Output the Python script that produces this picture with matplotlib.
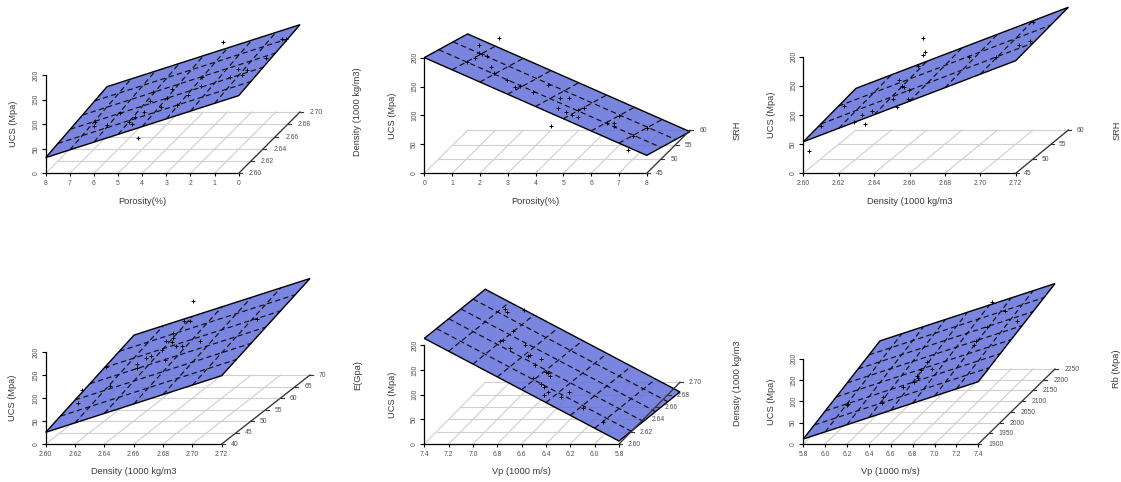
import matplotlib
matplotlib.use("Agg")
import matplotlib.pyplot as plt
import numpy as np

plt.rcParams['font.family'] = ['Liberation Sans', 'DejaVu Sans']

FW, FH = 1121, 482
ZT = [0, 50, 100, 150, 200]

# ---------- data ----------
p1_xt = [8, 7, 6, 5, 4, 3, 2, 1, 0]
p1_yt = [2.60, 2.62, 2.64, 2.66, 2.68, 2.70]
p1_plane = [32, 158.5, 51.7, 177]   # z at (x0,y0) (x1,y0) (x0,y1) (x1,y1)
p1_x = [1.91, 0.76, 0.58, 0.15, 1.28, 0.91, 2.83, 1.15, 4.81, 4.02, 4.95, 4.50, 5.19, 5.57, 5.80, 5.68, 7.25, 5.46, 1.63, 2.80, 3.36, 3.84, 4.25, 6.19, 7.23, 6.74]
p1_y = [2.65, 2.70, 2.70] + [2.65] * 23
p1_z = [205, 150, 149, 172, 150, 148, 116, 138, 103, 109, 86, 73, 62, 52, 43, 39, 33, 10, 135, 135, 97, 77, 92, 60, 43, 36]

p2_xt = [0, 1, 2, 3, 4, 5, 6, 7, 8]
p2_yt = [45, 50, 55, 60]
p2_plane = [200, 31, 166.6, -2]
p2_x = [1.90, 1.20, 1.19, 1.28, 1.46, 1.04, 0.74, 1.62, 1.74, 2.18, 2.48, 2.66, 3.14, 3.66, 4.10, 4.44, 4.04, 4.31, 4.52, 4.76, 4.76, 4.98, 3.78, 5.78, 6.06, 6.06, 6.24, 6.74, 7.22, 6.56]
p2_y = [52.5] * 30
p2_z = [196, 185, 170, 169, 165, 163, 156, 147, 136, 124, 112, 114, 104, 116, 93, 93, 76, 69, 64, 61, 72, 75, 45, 49, 49, 44, 62, 27, 41, 3]

p3_xt = [2.60, 2.62, 2.64, 2.66, 2.68, 2.70, 2.72]
p3_yt = [45, 50, 55, 60]
p3_plane = [54, 193, 71.4, 210]
p3_x = [2.603, 2.610, 2.653, 2.654, 2.653, 2.650, 2.639, 2.641, 2.642, 2.638, 2.645, 2.636, 2.624, 2.618, 2.620, 2.614, 2.679, 2.694, 2.707, 2.713, 2.715, 2.644, 2.608]
p3_y = [45, 45] + [52.5] * 21
p3_z = [39, 81, 194, 171, 165, 146, 123, 113, 110, 76, 105, 91, 69, 62, 47, 50, 162, 163, 183, 189, 223, 91, 78]

p4_xt = [2.60, 2.62, 2.64, 2.66, 2.68, 2.70, 2.72]
p4_yt = [40, 45, 50, 55, 60, 65, 70]
p4_plane = [25.5, 149, 87, 209.5]
p4_x = [2.6245, 2.622, 2.670, 2.664, 2.668, 2.657, 2.652, 2.657, 2.656, 2.659, 2.663, 2.675, 2.649, 2.642, 2.638, 2.651, 2.632, 2.632, 2.614, 2.714, 2.611]
p4_y = [40, 40] + [55] * 19
p4_z = [118, 89, 237, 192, 194, 166, 150, 155, 147, 139, 139, 150, 130, 117, 112, 108, 99, 90, 51, 197, 93]

p5_xt = [7.4, 7.2, 7.0, 6.8, 6.6, 6.4, 6.2, 6.0, 5.8]
p5_yt = [2.60, 2.62, 2.64, 2.66, 2.68, 2.70]
p5_plane = [214, 6, 188.5, -19]
p5_x = [6.99, 6.97, 6.92, 7.03, 7.00, 6.95, 6.82, 6.80, 6.78, 6.69, 6.74, 6.65, 6.63, 6.62, 6.76, 6.69, 6.67, 6.63, 6.67, 6.53, 6.46, 6.35, 5.93, 6.83]
p5_y = [2.65] * 22 + [2.60, 2.65]
p5_z = [212, 204, 167, 147, 148, 133, 138, 116, 118, 109, 98, 84, 82, 75, 71, 59, 52, 42, 37, 32, 42, 10, 44, 210]

p6_xt = [5.8, 6.0, 6.2, 6.4, 6.6, 6.8, 7.0, 7.2, 7.4]
p6_yt = [1900, 1950, 2000, 2050, 2100, 2150, 2200, 2250]
p6_plane = [11.7, 146, 66, 200.8]
p6_x = [6.82, 6.94, 7.05, 6.78, 6.68, 7.01, 6.58, 6.63, 6.53, 6.49, 6.50, 6.46, 6.36, 6.18, 6.17, 5.86, 5.85]
p6_y = [2250] * 5 + [2075] * 12
p6_z = [158, 136, 113, 98, 66, 144, 104, 89, 86, 71, 66, 58, 46, 23, 9, 7, 4]

x_labels = ['Porosity(%)', 'Porosity(%)', 'Density (1000 kg/m3', 'Density (1000 kg/m3', 'Vp (1000 m/s)', 'Vp (1000 m/s)']
y_labels = ['Density (1000 kg/m3)', 'SRH', 'SRH', 'E(Gpa)', 'Density (1000 kg/m3', 'Rb (Mpa)']
z_label = 'UCS (Mpa)'

# ---------- layout in pixels ----------
#          x0     W      base   H      Dx    Dy   depth-lbl offset  zlabel x  xlabel y  ylabel x, y
LAYOUT = [
    (45.7, 193.0, 173.3, 98.0, 61.3, 61.3, 16.7, 13.0, 202.0, 358.0, 112.0),
    (424.3, 222.4, 173.3, 115.7, 43.3, 43.0, 13.3, 392.7, 202.0, 737.0, 130.0),
    (803.3, 212.4, 173.3, 116.7, 52.7, 43.3, 11.7, 771.7, 202.0, 1117.0, 130.7),
    (45.7, 176.0, 444.0, 91.7, 88.3, 69.0, 12.7, 12.7, 472.0, 358.0, 375.0),
    (424.3, 194.7, 444.0, 98.7, 61.0, 61.7, 15.3, 392.7, 472.0, 737.3, 383.0),
    (803.3, 175.0, 444.0, 85.3, 76.7, 75.0, 17.3, 771.7, 472.0, 1116.7, 369.0),
]
PLANE_FACE = '#6370DB'
TXT = '#3a3a3a'
TICK_TXT = '#505050'

fig = plt.figure(figsize=(FW / 100, FH / 100), dpi=100, facecolor='white')

def panel(i, xt, yt, plane, xs, ys, zs):
    x0, W, base, H, Dx, Dy, off, zlx, xly, ylx, yly = LAYOUT[i]
    ax = fig.add_axes([x0 / FW, 1 - base / FH, W / FW, H / FH], facecolor='none')
    xa, xb = xt[0], xt[-1]
    ya, yb = yt[0], yt[-1]
    ax.set_xlim(xa, xb)
    ax.set_ylim(0, 200)

    def proj(x, y, z):
        x, y, z = np.asarray(x, float), np.asarray(y, float), np.asarray(z, float)
        f = (y - ya) / (yb - ya)
        return x + f * (Dx / W) * (xb - xa), z + f * (Dy / H) * 200

    def pz(x, y):
        u = (np.asarray(x, float) - xa) / (xb - xa)
        v = (np.asarray(y, float) - ya) / (yb - ya)
        return plane[0] + u * (plane[1] - plane[0]) + v * (plane[2] - plane[0])

    # floor grid
    grid = dict(color='#cfcfcf', lw=0.8, clip_on=False, zorder=1)
    for t in xt:
        ax.plot(*proj([t, t], [ya, yb], [0, 0]), **grid)
    for t in yt:
        ax.plot(*proj([xa, xb], [t, t], [0, 0]), **grid)

    # plane
    cx = [xa, xb, xb, xa]
    cy = [ya, ya, yb, yb]
    px, pzv = proj(cx, cy, pz(cx, cy))
    ax.fill(px, pzv, facecolor=PLANE_FACE, alpha=0.85, edgecolor='none', clip_on=False, zorder=2)
    ax.fill(px, pzv, facecolor='none', edgecolor='black', lw=1.0, clip_on=False, zorder=4)

    # plane grid
    dash = dict(color='#111111', lw=0.85, ls=(0, (4.5, 2.8)), clip_on=False, zorder=3)
    for t in xt[1:-1]:
        ax.plot(*proj([t, t], [ya, yb], pz([t, t], [ya, yb])), **dash)
    for t in yt[1:-1]:
        ax.plot(*proj([xa, xb], [t, t], pz([xa, xb], [t, t])), **dash)

    # points
    sx, sz = proj(xs, ys, zs)
    ax.plot(sx, sz, ls='none', marker='+', ms=2.2, mew=0.7, color='black', clip_on=False, zorder=5)

    # axes
    for s in ('top', 'right'):
        ax.spines[s].set_visible(False)
    for s in ('left', 'bottom'):
        ax.spines[s].set_linewidth(0.9)
    ax.set_xticks(xt)
    ax.set_xticklabels([str(v) if isinstance(v, int) else f'{v:.2f}' if abs(v) < 2.8 and len(xt) == 7 else f'{v:.1f}' for v in xt])
    ax.set_yticks(ZT)
    ax.tick_params(axis='x', length=2.2, width=0.8, pad=2.5, labelsize=4.9, labelcolor=TICK_TXT)
    ax.tick_params(axis='y', length=2.6, width=0.8, pad=1.8, labelsize=4.9, labelcolor=TICK_TXT, labelrotation=90)
    for lb in ax.get_yticklabels():
        lb.set_va('center')

    # depth axis
    ax.plot(*proj([xb, xb], [ya, yb], [0, 0]), color='#333333', lw=0.9, clip_on=False, zorder=6)
    xunit = (xb - xa) / W
    zunit = 200 / H
    decimals = 2 if yb < 10 else 0
    for t in yt:
        bx, bz = proj(xb, t, 0)
        ax.plot([bx, bx + 3 * xunit], [bz, bz], color='#333333', lw=0.8, clip_on=False, zorder=6)
        ax.text(bx + off * xunit, bz - 0.5 * zunit, f'{t:.{decimals}f}', fontsize=4.9, color=TICK_TXT,
                ha='center', va='center', clip_on=False)

    # labels
    ax.set_xlabel(x_labels[i], fontsize=6.7, color=TXT, va='center')
    ax.xaxis.set_label_coords(0.5, -(xly - base) / H)
    ax.set_ylabel(z_label, fontsize=6.7, color=TXT, va='center')
    ax.yaxis.set_label_coords((zlx - x0) / W, 0.5)
    ax.text((ylx - x0) / W, (base - yly) / H, y_labels[i], transform=ax.transAxes, rotation=90,
            fontsize=6.7, color=TXT, ha='center', va='center', clip_on=False)

panel(0, p1_xt, p1_yt, p1_plane, p1_x, p1_y, p1_z)
panel(1, p2_xt, p2_yt, p2_plane, p2_x, p2_y, p2_z)
panel(2, p3_xt, p3_yt, p3_plane, p3_x, p3_y, p3_z)
panel(3, p4_xt, p4_yt, p4_plane, p4_x, p4_y, p4_z)
panel(4, p5_xt, p5_yt, p5_plane, p5_x, p5_y, p5_z)
panel(5, p6_xt, p6_yt, p6_plane, p6_x, p6_y, p6_z)

fig.savefig('out.png', dpi=100)
